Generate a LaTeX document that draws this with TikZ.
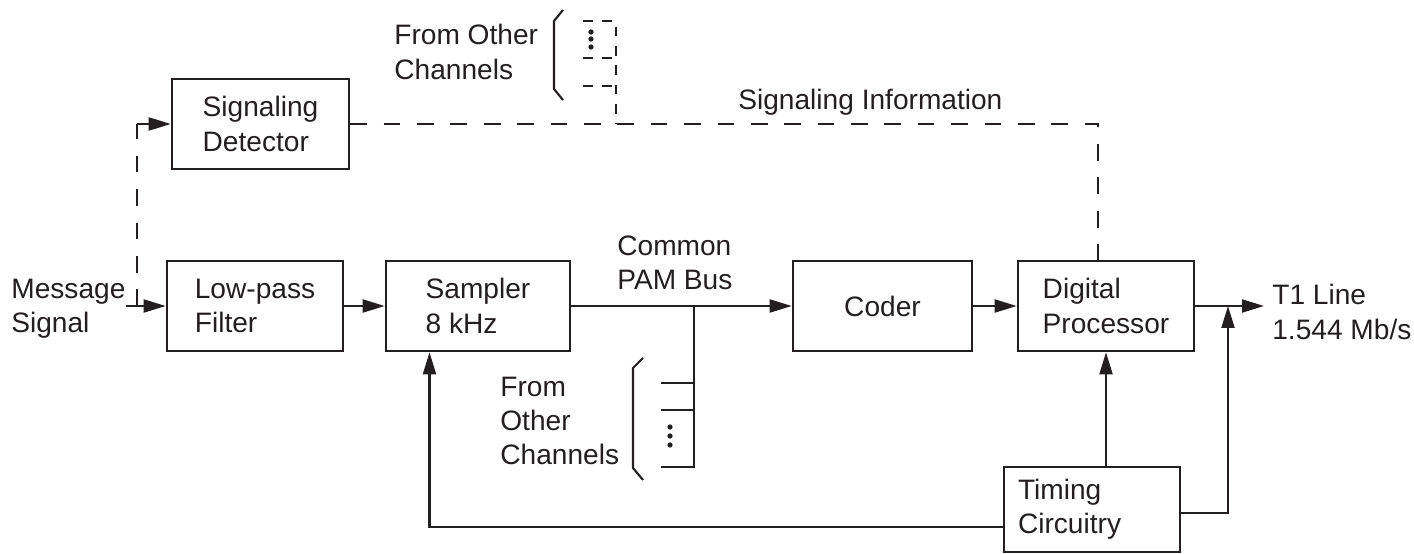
\documentclass[tikz,border=0pt]{standalone}
\usepackage{fontspec}
\setmainfont{Liberation Sans}
\usetikzlibrary{arrows.meta,calc,positioning}
\definecolor{ink}{RGB}{35,31,32}
\newcommand{\lbl}{\fontsize{16}{19.5}\selectfont}
\tikzset{
  wire/.style={ink,line width=1.2pt},
  flow/.style={wire,-{Triangle[length=4.4mm,width=2.6mm]}},
  sig/.style={wire,dash pattern=on 9.5pt off 9.5pt},
  sigfine/.style={wire,dash pattern=on 5.5pt off 5.5pt},
  block/.style={draw=ink,line width=1.5pt,minimum width=3.52cm,minimum height=1.8cm,
                inner sep=0pt,align=left,font=\lbl,text=ink},
  lab/.style={font=\lbl,text=ink,align=left,inner sep=0pt,anchor=west},
}

\begin{document}
\begin{tikzpicture}[x=0.02cm,y=-0.02cm]
  \path[use as bounding box] (0,0) rectangle (1414,554);

  % blocks
  \node[block,minimum width=3.54cm] (SD) at (260.5,124) {Signaling\\Detector};
  \node[block] (LPF) at (255,306) {Low-pass\\Filter};
  \node[block,minimum width=3.68cm] (SP) at (478,306) {Sampler\\8 kHz};
  \node[block,minimum width=3.58cm] (CD) at (882.5,306) {Coder};
  \node[block] (DP) at (1106,306) {Digital\\Processor};
  \node[block,minimum height=1.7cm,text width=2.96cm,inner xsep=0.28cm] (TC) at (1092,509.5)
    {Timing\\Circuitry};

  % labels
  \node[lab] (msg) at (11,309) {Message\\Signal};
  \node[lab] (bus) at (617,263) {Common\\PAM Bus};
  \node[lab] (fromtop) at (394,52) {From Other\\Channels};
  \node[lab] (info) at (738,102) {Signaling Information};
  \node[lab] (frombot) at (500,421) {From\\Other\\Channels};
  \node[lab] (t1) at (1272,312) {T1 Line\\1.544 Mb/s};

  % main signal path
  \coordinate (msgin) at (126,306);
  \coordinate (tap) at (137,306);
  \coordinate (busjoin) at (694,306);
  \coordinate (busfoot) at (694,467);
  \coordinate (outjoin) at (1228,306);
  \coordinate (t1end) at (1264,306);
  \draw[flow] (msgin) -- (LPF.west);
  \draw[flow] (LPF.east) -- (SP.west);
  \draw[flow] (SP.east) -- (CD.west);
  \draw[flow] (CD.east) -- (DP.west);
  \draw[flow] (DP.east) -- (t1end);

  % signaling branch
  \draw[sig] (tap) -- (tap |- SD.west);
  \draw[flow] (tap |- SD.west) -- (SD.west);
  \draw[sig] (SD.east) -| ([xshift=-0.16cm]DP.north);

  % other channels, top
  \coordinate (chtop) at (583,21);
  \coordinate (chrail) at (616,21);
  \coordinate (chmid) at (583,58);
  \coordinate (chlow) at (583,86);
  \draw[sigfine] (chtop) -- (chrail) -- (chrail |- SD.east);
  \draw[sigfine] (chmid) -- (chmid -| chrail);
  \draw[sigfine] (chlow) -- (chlow -| chrail);
  \foreach \y in {32,39,47}
    \fill[ink] (591,\y) circle[radius=1.5pt];
  \draw[wire] (563,10) -- (554,21) -- (554,89) -- (563,100);

  % other channels, bottom
  \draw[wire] (busjoin) -- (busfoot) -- (661,467);
  \foreach \y in {383,410}
    \draw[wire] (661,\y) -- (busjoin |- 0,\y);
  \foreach \y in {427,436,445}
    \fill[ink] (670,\y) circle[radius=1.5pt];
  \draw[wire] (643,358) -- (633,368) -- (633,468) -- (643,480);

  % timing
  \coordinate (clkS) at ($(SP.south west)!0.24!(SP.south east)$);
  \draw[flow] ([yshift=-0.35cm]TC.west) -| (clkS);
  \draw[flow] (TC.north -| DP.south) -- (DP.south);
  \draw[flow] ([yshift=-0.07cm]TC.east) -| (outjoin);
\end{tikzpicture}
\end{document}
